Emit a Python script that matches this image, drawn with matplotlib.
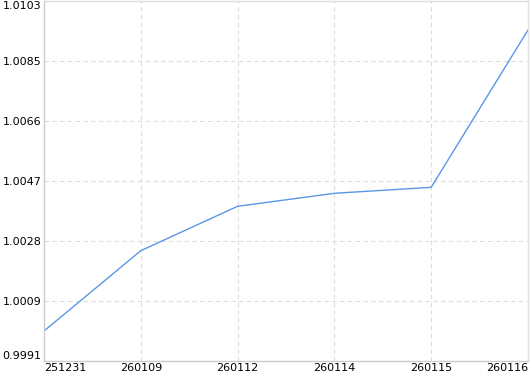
import matplotlib
matplotlib.use("Agg")
import matplotlib.pyplot as plt
import numpy as np

categories = ["251231", "260109", "260112", "260114", "260115", "260116"]
values = [1.000009, 1.002526, 1.003917, 1.004324, 1.004512, 1.009441]
y_min, y_max = 0.99906, 1.01034
n_ticks = 7

fig = plt.figure(figsize=(5.30, 3.74), dpi=100)
ax = fig.add_axes([44/530, 12.7/374, 484/530, 360/374])

x = np.arange(len(categories))
ax.plot(x, values, color="#5b96e8", linewidth=1.0)

ax.set_xlim(0, len(categories) - 1)
ax.set_ylim(y_min, y_max)
yt = np.linspace(y_min, y_max, n_ticks)
ax.set_yticks(yt)
ax.set_yticklabels([f"{v:.4f}" for v in yt])
ax.set_xticks(x)
ax.set_xticklabels(categories)

ax.grid(True, color="#dddddd", linestyle=(0, (4, 3)), linewidth=0.8)
ax.set_axisbelow(True)
ax.tick_params(length=0, labelsize=8, colors="black", pad=2)
ax.tick_params(axis="x", pad=1.5)

xl = ax.get_xticklabels()
xl[0].set_ha("left")
xl[-1].set_ha("right")
yl = ax.get_yticklabels()
yl[0].set_va("bottom")
yl[-1].set_va("top")

for s in ["left", "bottom"]:
    ax.spines[s].set_color("#cccccc")
for s in ["top", "right"]:
    ax.spines[s].set_color("#e0e0e0")
for s in ax.spines.values():
    s.set_linewidth(1.0)

fig.savefig("out.png", dpi=100)
